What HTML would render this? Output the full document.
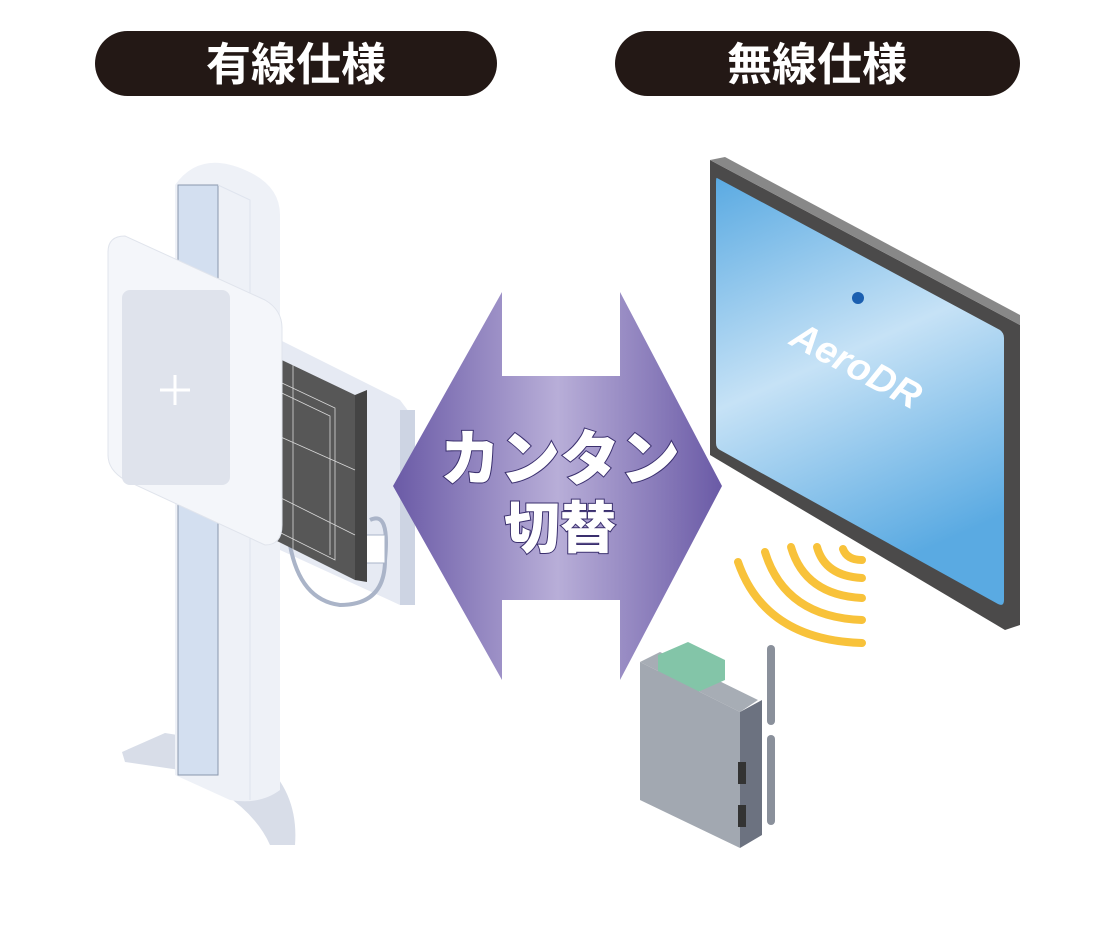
<!DOCTYPE html>
<html><head><meta charset="utf-8"><style>
html,body{margin:0;padding:0;background:#fff;width:1105px;height:940px;overflow:hidden}
svg{display:block}
</style></head><body>
<svg width="1105" height="940" viewBox="0 0 1105 940" xmlns="http://www.w3.org/2000/svg">
<defs>
<linearGradient id="ar" x1="0" x2="1" y1="0" y2="0">
<stop offset="0" stop-color="#6a5aa6"/><stop offset="0.5" stop-color="#b8aed8"/><stop offset="1" stop-color="#6a5aa6"/>
</linearGradient>
<linearGradient id="scr" x1="0" x2="0.3" y1="0" y2="1">
<stop offset="0" stop-color="#5aaae2"/><stop offset="0.5" stop-color="#c6e2f6"/><stop offset="1" stop-color="#5aaae2"/>
</linearGradient>
</defs>
<!-- pills -->
<rect x="95" y="31" width="402" height="65" rx="32.5" fill="#231815"/>
<text x="296" y="80" text-anchor="middle" font-family="Liberation Sans,'Noto Sans CJK JP',sans-serif" font-weight="bold" font-size="45" fill="#fff">有線仕様</text>
<rect x="615" y="31" width="405" height="65" rx="32.5" fill="#231815"/>
<text x="817" y="80" text-anchor="middle" font-family="Liberation Sans,'Noto Sans CJK JP',sans-serif" font-weight="bold" font-size="45" fill="#fff">無線仕様</text>

<!-- stand base -->
<path d="M122 752 L165 733 L240 745 Q300 780 295 845 L270 845 Q250 800 180 770 L125 762 Z" fill="#d8dde8"/>
<!-- column -->
<path d="M175 185 Q200 150 245 170 Q280 185 280 215 L280 790 Q260 805 230 800 L175 775 Z" fill="#eef1f7"/>
<rect x="178" y="185" width="40" height="590" fill="#d3dff0" stroke="#8a97ad" stroke-width="1"/>
<path d="M218 185 L250 200 L250 800" fill="none" stroke="#dfe4ee"/>
<!-- back plate & cable -->
<path d="M280 340 L400 400 L415 420 L415 600 L400 605 L280 550 Z" fill="#e6eaf3"/>
<rect x="400" y="410" width="15" height="195" fill="#cdd4e3"/>
<path d="M290 545 Q300 600 340 605 Q385 605 385 560 Q390 510 370 520" fill="none" stroke="#aab4c8" stroke-width="4"/>
<rect x="365" y="535" width="20" height="28" fill="#fff" stroke="#aab4c8"/>
<!-- detector -->
<path d="M265 352 L355 395 L355 580 L265 535 Z" fill="#575757"/>
<path d="M355 395 L367 390 L367 582 L355 580 Z" fill="#444"/>
<g stroke="#d9d9d9" stroke-width="0.8" fill="none">
<line x1="293" y1="365" x2="293" y2="550"/><line x1="265" y1="430" x2="355" y2="470"/><line x1="265" y1="490" x2="355" y2="535"/>
<path d="M265 375 L335 408 L335 560 L265 525"/><path d="M265 385 L330 416 L330 555"/>
</g>
<!-- panel box -->
<path d="M108 252 Q108 236 125 236 L265 300 Q282 310 282 328 L282 525 Q282 545 265 545 L125 480 Q108 470 108 455 Z" fill="#f4f6fa" stroke="#e0e4ec"/>
<rect x="122" y="290" width="108" height="195" rx="8" fill="#dfe3ec"/>
<line x1="160" y1="390" x2="190" y2="390" stroke="#fff" stroke-width="3"/>
<line x1="175" y1="375" x2="175" y2="405" stroke="#fff" stroke-width="3"/>

<!-- arrow -->
<path d="M502 292 L502 376 L620 376 L620 292 L722 486 L620 680 L620 600 L502 600 L502 680 L393 486 Z" fill="url(#ar)"/>
<g font-family="Liberation Sans,'Noto Sans CJK JP',sans-serif" font-weight="900" text-anchor="middle" fill="#fff" stroke="#3a2f6e" stroke-width="2" paint-order="stroke">
<text x="560" y="480" font-size="60">カンタン</text>
<text x="560" y="548" font-size="56">切替</text>
</g>

<!-- monitor -->
<path d="M710 160 L1020 325 L1020 625 L1005 630 L710 455 Z" fill="#4b4a4a"/>
<path d="M710 160 L725 157 L1020 315 L1020 325 Z" fill="#888"/>
<path d="M717 178 L1000 330 Q1004 333 1004 338 L1004 600 Q1004 607 998 604 L720 450 Q716 448 716 443 L716 183 Q716 177 717 178 Z" fill="url(#scr)"/>
<circle cx="858" cy="298" r="6" fill="#1b5fb0"/>
<text x="855" y="378" font-family="Liberation Sans,sans-serif" font-style="italic" font-weight="bold" font-size="38" fill="#fff" transform="rotate(28 855 368)" text-anchor="middle">AeroDR</text>
<!-- wifi -->
<g fill="none" stroke="#f8c23a" stroke-width="8" stroke-linecap="round">
<path d="M862 560 Q847 560 843 549"/>
<path d="M862 578 Q825 576 817 547"/>
<path d="M862 598 Q805 595 791 547"/>
<path d="M862 620 Q785 617 765 552"/>
<path d="M862 643 Q765 640 738 562"/>
</g>
<!-- router -->
<path d="M640 662 L660 652 L758 700 L740 712 Z" fill="#a7adb5"/>
<path d="M658 655 L688 642 L725 660 L725 680 L698 692 L658 673 Z" fill="#83c5a8"/>
<path d="M640 662 L740 712 L740 848 L640 800 Z" fill="#a2a8b1"/>
<path d="M740 712 L762 700 L762 835 L740 848 Z" fill="#6c7280"/>
<rect x="738" y="762" width="8" height="22" fill="#333"/>
<rect x="738" y="805" width="8" height="22" fill="#333"/>
<rect x="767" y="645" width="8" height="80" rx="4" fill="#8a909b"/>
<rect x="767" y="735" width="8" height="90" rx="4" fill="#8a909b"/>
</svg>
</body></html>
